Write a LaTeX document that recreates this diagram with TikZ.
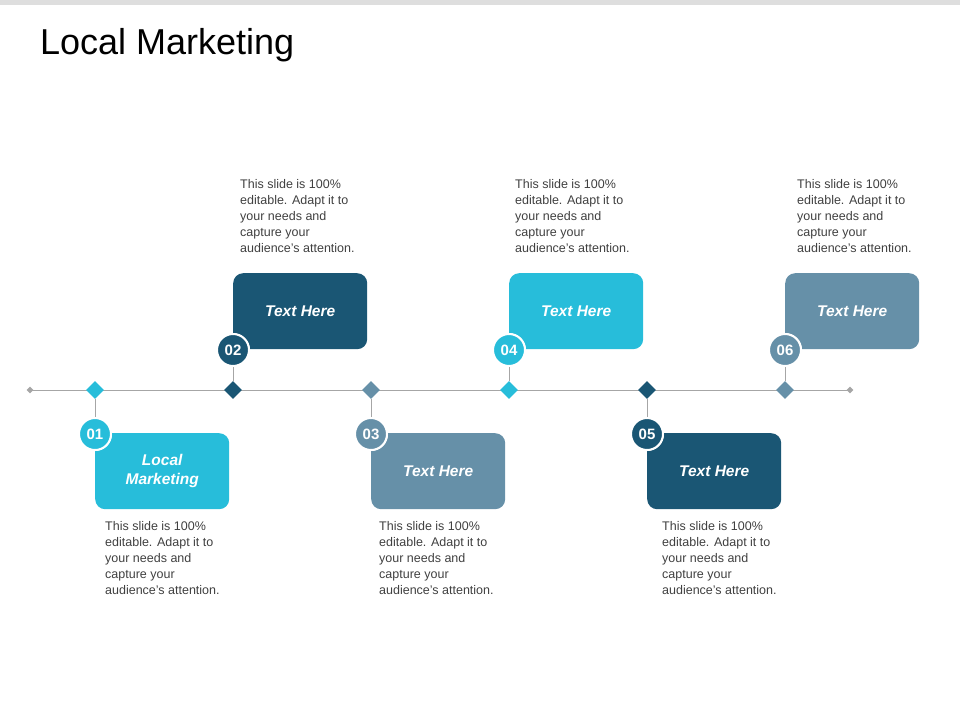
\documentclass[tikz,border=0pt]{standalone}
\usepackage{fontspec}
\setmainfont{Liberation Sans}
\usetikzlibrary{shapes.geometric}
\definecolor{cy}{HTML}{27BDDA}
\definecolor{dk}{HTML}{1A5674}
\definecolor{gb}{HTML}{6690A8}
\definecolor{lnc}{HTML}{A6A6A6}
\definecolor{tx}{HTML}{404040}
\tikzset{
 bx/.style={fill=#1,rounded corners=10pt,minimum width=134pt,minimum height=76pt,anchor=north west,text=white,font=\bfseries\itshape\fontsize{15.5}{19}\selectfont,align=center,inner sep=0},
 num/.style={circle,fill=#1,draw=white,line width=2pt,minimum size=32pt,inner sep=0,text=white,font=\bfseries\fontsize{15}{17}\selectfont},
 dia/.style={diamond,fill=#1,minimum size=18pt,inner sep=0},
 desc/.style={anchor=north west,align=left,text=tx,font=\fontsize{12.5}{16}\selectfont,inner sep=0},
}
\begin{document}
\begin{tikzpicture}[x=1pt,y=-1pt]
\useasboundingbox (0,0) rectangle (960,720);
\fill[black!13] (0,0) rectangle (960,5);
\node[anchor=west,font=\fontsize{36}{40}\selectfont,inner sep=0] (title) at (40,45) {Local Marketing};
\coordinate (L) at (30,390); \coordinate (R) at (850,390);
\draw[lnc,line width=1pt] (L) -- (R);
\node[dia=lnc,minimum size=7pt] (le) at (L) {};
\node[dia=lnc,minimum size=7pt] (re) at (R) {};
\foreach \i/\x/\c/\up/\t/\dx in {1/95/cy/0/{Local\\Marketing}/10,2/233/dk/1/Text Here/7,3/371/gb/0/Text Here/8,4/509/cy/1/Text Here/6,5/647/dk/0/Text Here/15,6/785/gb/1/Text Here/12}{
 \ifnum\up=1
  \node[bx=\c] (b\i) at (\x,273) {\t};
  \node[num=\c] (n\i) at (\x,350) {0\i};
  \node[desc] (d\i) at (\x+\dx,179) {This slide is 100\%\\editable. Adapt it to\\your needs and\\capture your\\audience's attention.};
 \else
  \node[bx=\c] (b\i) at (\x,433) {\t};
  \node[num=\c] (n\i) at (\x,434) {0\i};
  \node[desc] (d\i) at (\x+\dx,521) {This slide is 100\%\\editable. Adapt it to\\your needs and\\capture your\\audience's attention.};
 \fi
 \node[dia=\c] (m\i) at (\x,390) {};
 \draw[lnc,line width=1pt] (m\i) -- (n\i);
 \node[num=\c] at (n\i) {0\i};
}
\end{tikzpicture}
\end{document}
